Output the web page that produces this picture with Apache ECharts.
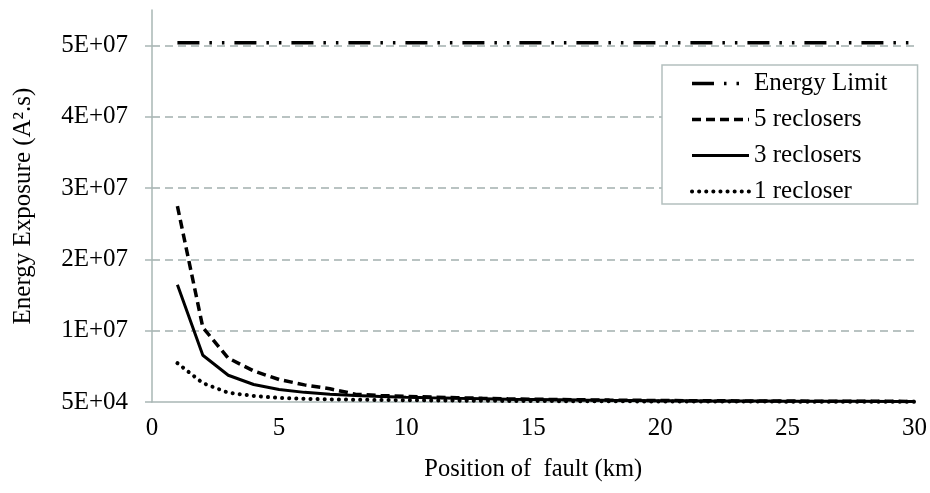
<!DOCTYPE html>
<html>
<head>
<meta charset="utf-8">
<script src="https://cdn.jsdelivr.net/npm/echarts@6/dist/echarts.min.js"></script>
<style>
html,body{margin:0;padding:0;background:#fff;}
#chart{width:930px;height:493px;}
</style>
</head>
<body>
<div id="chart"></div>
<script>
// ---- data ----
const positions = [1,2,3,4,5,6,7,8,9,10,11,12,13,14,15,16,17,18,19,20,21,22,23,24,25,26,27,28,29,30];
const energyLimit = 50400000;
const fiveReclosers = [27500000,10500000,6200000,4400000,3200000,2450000,1900000,1150000,950000,840000,740000,650000,570000,500000,440000,390000,350000,315000,285000,260000,240000,222000,206000,192000,180000,170000,160000,150000,142000,135000];
const threeReclosers = [16500000,6600000,3800000,2500000,1800000,1400000,1150000,950000,820000,720000,630000,560000,500000,440000,400000,360000,320000,290000,265000,240000,222000,205000,190000,177000,165000,155000,146000,138000,130000,122000];
const oneRecloser = [5500000,2700000,1350000,900000,620000,500000,420000,370000,330000,300000,270000,245000,222000,202000,185000,170000,158000,147000,138000,130000,123000,117000,111000,106000,101000,97000,93000,89000,86000,83000];
const xTicks = {min: 0, max: 30, interval: 5};
const yTicks = {min: 50000, max: 55000000, interval: 10000000};
const seriesNames = ['Energy Limit', '5 reclosers', '3 reclosers', '1 recloser'];

const FONT = 'Liberation Serif';
const pair = arr => positions.map((x, i) => [x, arr[i]]);
function fmtE(v){
  if (v <= 0) return '0';
  const e = Math.floor(Math.log10(v));
  const m = Math.round(v / Math.pow(10, e));
  return m + 'E+' + String(e).padStart(2, '0');
}

const chart = echarts.init(document.getElementById('chart'), null, {renderer: 'canvas'});
chart.setOption({
  backgroundColor: '#ffffff',
  animation: false,
  textStyle: {fontFamily: FONT, color: '#000'},
  grid: {left: 152, right: 13, top: 10, bottom: 91, containLabel: false},
  legend: {
    orient: 'vertical',
    left: 662, top: 65,
    data: seriesNames,
    itemWidth: 57, itemHeight: 14, itemGap: 11,
    padding: [6, 30, 0, 28],
    borderColor: '#b4c0bf', borderWidth: 1.5,
    backgroundColor: '#fff',
    itemStyle: {opacity: 0},
    lineStyle: {width: 'inherit'},
    textStyle: {fontFamily: FONT, fontSize: 25, lineHeight: 24, color: '#000', padding: [0, 0, 0, 0]}
  },
  xAxis: {
    type: 'value',
    min: xTicks.min, max: xTicks.max, interval: xTicks.interval,
    name: 'Position of  fault (km)',
    nameLocation: 'middle', nameGap: 55,
    nameTextStyle: {fontFamily: FONT, fontSize: 24.5, color: '#000'},
    axisLine: {show: true, lineStyle: {color: '#a9b7b5', width: 1.5}},
    axisTick: {show: false},
    axisLabel: {fontFamily: FONT, fontSize: 25, color: '#000', margin: 14},
    splitLine: {show: false}
  },
  yAxis: {
    type: 'value',
    min: yTicks.min, max: yTicks.max, interval: yTicks.interval,
    name: 'Energy Exposure (A\u00B2.s)',
    nameLocation: 'middle', nameGap: 116, nameRotate: 90,
    nameTextStyle: {fontFamily: FONT, fontSize: 25, color: '#000'},
    axisLine: {show: true, lineStyle: {color: '#a9b7b5', width: 1.5}},
    axisTick: {show: true, length: 7, inside: false, lineStyle: {color: '#a9b7b5', width: 1.5}},
    axisLabel: {fontFamily: FONT, fontSize: 25, color: '#000', margin: 24, formatter: fmtE, showMaxLabel: false},
    splitLine: {show: true, showMaxLine: false, showMinLine: false, lineStyle: {color: '#a3b0ae', width: 1.5, type: [8, 5]}}
  },
  series: [
    {
      name: seriesNames[0], type: 'line', showSymbol: false, symbol: 'none',
      data: positions.map(x => [x, energyLimit]),
      lineStyle: {color: '#000', width: 3.5, type: [22, 10, 2.5, 10, 2.5, 10], cap: 'butt'},
      itemStyle: {color: '#000'}
    },
    {
      name: seriesNames[1], type: 'line', showSymbol: false, symbol: 'none', z: 3,
      data: pair(fiveReclosers),
      lineStyle: {color: '#000', width: 3.5, type: [9, 5], cap: 'butt'},
      itemStyle: {color: '#000'}
    },
    {
      name: seriesNames[2], type: 'line', showSymbol: false, symbol: 'none', z: 2,
      data: pair(threeReclosers),
      lineStyle: {color: '#000', width: 3, type: 'solid'},
      itemStyle: {color: '#000'}
    },
    {
      name: seriesNames[3], type: 'line', showSymbol: false, symbol: 'none', z: 2,
      data: pair(oneRecloser),
      lineStyle: {color: '#000', width: 4, type: [0.1, 7], cap: 'round'},
      itemStyle: {color: '#000'}
    }
  ]
});
</script>
</body>
</html>
